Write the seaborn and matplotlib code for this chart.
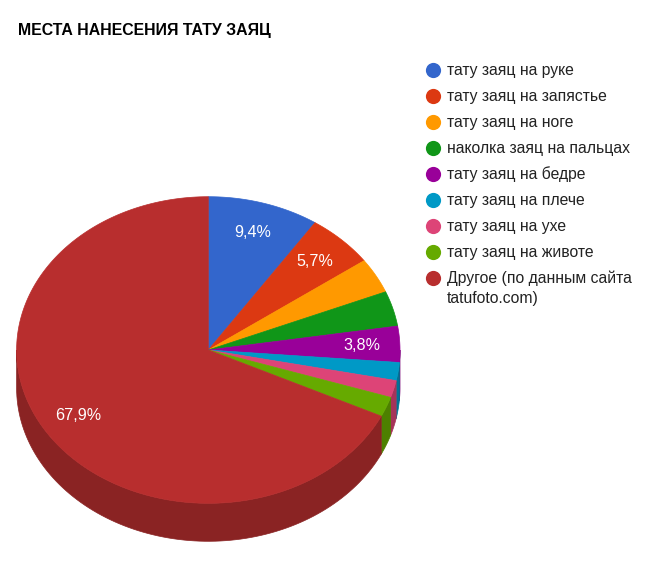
import numpy as np
import matplotlib
matplotlib.use("Agg")
import matplotlib.pyplot as plt
from matplotlib.patches import Polygon
import seaborn as sns

# === DATA ===
labels = [
    "тату заяц на руке",
    "тату заяц на запястье",
    "тату заяц на ноге",
    "наколка заяц на пальцах",
    "тату заяц на бедре",
    "тату заяц на плече",
    "тату заяц на ухе",
    "тату заяц на животе",
    "Другое (по данным сайта\ntatufoto.com)",
]
values = [9.4, 5.7, 3.7, 3.7, 3.8, 1.9, 1.8, 2.1, 67.9]
colors = ["#3366cc", "#dc3912", "#ff9900", "#109618", "#990099",
          "#0099c6", "#dd4477", "#66aa00", "#b82e2e"]
title = "МЕСТА НАНЕСЕНИЯ ТАТУ ЗАЯЦ"

# === SETUP ===
sns.set_style("white")
plt.rcParams['font.family'] = ['Liberation Sans', 'DejaVu Sans']

W, H = 658, 563
fig = plt.figure(figsize=(W / 100, H / 100), dpi=100)
ax = fig.add_axes([0, 0, 1, 1])
ax.set_xlim(0, W)
ax.set_ylim(H, 0)
ax.axis("off")

cx, cy, rx, ry, depth = 208.3, 350.0, 191.7, 153.3, 38.0


def edge(theta):
    # angle in degrees, clockwise from the top
    t = np.radians(theta)
    return cx + rx * np.sin(t), cy - ry * np.cos(t)


def darker(c, f=0.75):
    r, g, b = matplotlib.colors.to_rgb(c)
    return (r * f, g * f, b * f)


vals = np.array(values, dtype=float)
bounds = np.concatenate([[0], np.cumsum(vals) / vals.sum() * 360])

# side walls (front half only)
for i, c in enumerate(colors):
    a, b = max(bounds[i], 90), min(bounds[i + 1], 270)
    if b <= a:
        continue
    th = np.linspace(a, b, 100)
    xs, ys = edge(th)
    pts = np.column_stack([np.concatenate([xs, xs[::-1]]),
                           np.concatenate([ys, ys[::-1] + depth])])
    ax.add_patch(Polygon(pts, closed=True, fc=darker(c), ec=darker(c), lw=0.5))

# top faces
for i, c in enumerate(colors):
    th = np.linspace(bounds[i], bounds[i + 1], 200)
    xs, ys = edge(th)
    pts = np.column_stack([np.concatenate([[cx], xs]), np.concatenate([[cy], ys])])
    ax.add_patch(Polygon(pts, closed=True, fc=c, ec=c, lw=0.5))

# percentage labels (small slices stay unlabeled)
for i, v in enumerate(values):
    if v < 3.75:
        continue
    mid = np.radians((bounds[i] + bounds[i + 1]) / 2)
    lx = cx + 0.8 * rx * np.sin(mid)
    ly = cy - 0.8 * ry * np.cos(mid)
    ax.text(lx, ly, f"{v:.1f}%".replace(".", ","), color="white",
            fontsize=11.6, ha="center", va="center")

# title
ax.text(18, 30, title, fontsize=11.4, fontweight="bold", color="black",
        ha="left", va="center")

# legend
ly0, step = 70, 26
for row, (lab, c) in enumerate(zip(labels, colors)):
    y = ly0 + row * step
    ax.scatter([433], [y], s=120, color=c, zorder=3, linewidths=0)
    for j, line in enumerate(lab.split("\n")):
        ax.text(447, y + j * 20, line, fontsize=11.3, color="#222222",
                ha="left", va="center")

fig.savefig("out.png", dpi=100)
